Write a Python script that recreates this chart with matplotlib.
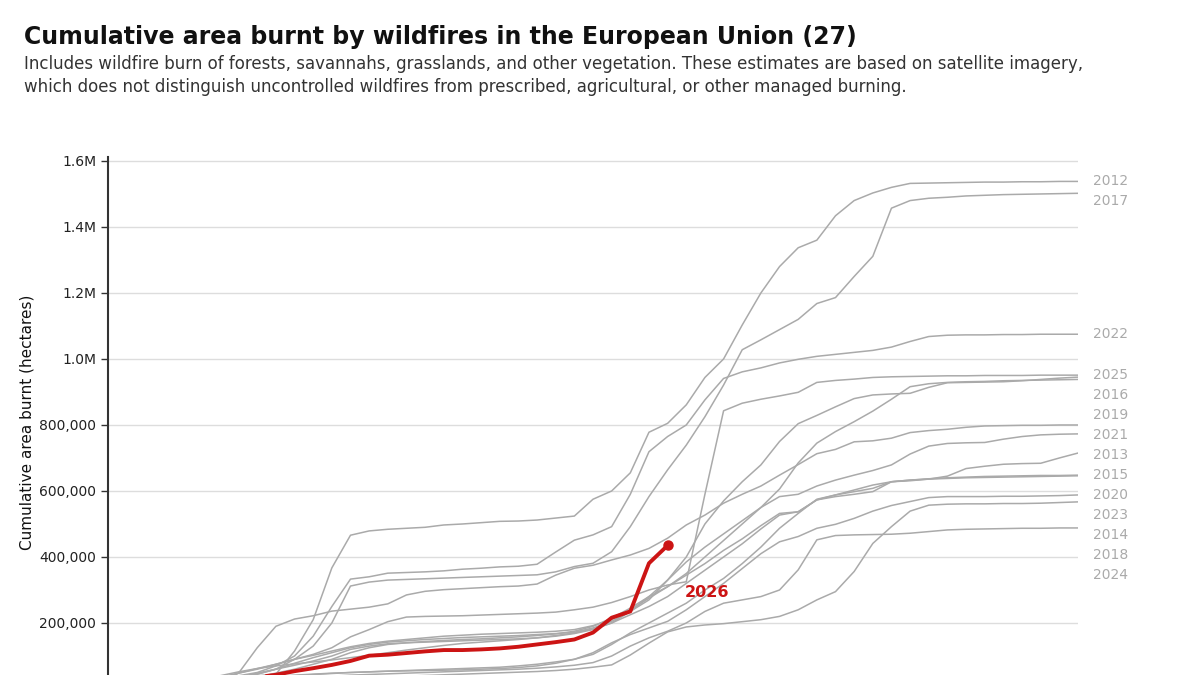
import numpy as np
import matplotlib
matplotlib.use("Agg")
import matplotlib.pyplot as plt
from matplotlib.ticker import FuncFormatter

# cumulative burnt area by week of year, thousands of hectares
weeks = np.arange(53)

y2012 = [3, 6, 10, 14, 19, 25, 30, 36, 40, 45,
         115, 210, 367, 466, 479, 484, 487, 490, 497, 500,
         504, 508, 509, 512, 518, 524, 575, 600, 655, 778,
         805, 861, 944, 1000, 1103, 1200, 1280, 1337, 1360, 1434,
         1480, 1503, 1520, 1532, 1533, 1534, 1535, 1536, 1536, 1537,
         1537, 1538, 1538]
y2013 = [1, 2, 4, 7, 12, 18, 26, 36, 48, 60,
         72, 85, 100, 120, 130, 137, 140, 142, 144, 146,
         148, 150, 152, 155, 160, 168, 180, 200, 235, 280,
         330, 385, 430, 470, 510, 550, 583, 590, 615, 633,
         648, 662, 679, 712, 736, 744, 746, 747, 757, 765,
         770, 772, 773]
y2014 = [1, 2, 3, 5, 8, 12, 17, 23, 30, 36,
         40, 44, 47, 50, 52, 54, 55, 56, 57, 58,
         60, 62, 65, 70, 78, 90, 110, 140, 165, 185,
         205, 240, 280, 320, 365, 410, 446, 462, 487, 499,
         517, 539, 556, 568, 580, 583, 583, 583, 584, 584,
         585, 586, 588]
y2015 = [1, 2, 3, 5, 8, 12, 18, 26, 36, 48,
         60, 75, 90, 110, 125, 135, 140, 144, 147, 150,
         152, 155, 158, 162, 167, 175, 190, 215, 245, 280,
         310, 345, 380, 420, 455, 495, 532, 537, 573, 583,
         590, 598, 628, 631, 636, 645, 668, 675, 681, 683,
         684, 700, 715]
y2016 = [1, 2, 4, 7, 11, 16, 22, 30, 45, 60,
         78, 95, 110, 125, 135, 142, 146, 150, 153, 156,
         158, 160, 162, 165, 168, 172, 185, 205, 235, 270,
         330, 400, 500, 570, 628, 679, 750, 804, 829, 855,
         880, 891, 894, 896, 914, 928, 929, 930, 931, 934,
         938, 942, 945]
y2017 = [2, 4, 7, 10, 14, 18, 24, 32, 45, 60,
         90, 130, 200, 312, 324, 330, 332, 334, 336, 338,
         340, 342, 344, 346, 355, 371, 381, 416, 492, 583,
         664, 739, 825, 921, 1028, 1058, 1089, 1120, 1168, 1186,
         1250, 1311, 1457, 1480, 1487, 1490, 1494, 1496, 1498, 1499,
         1500, 1501, 1502]
y2018 = [1, 1, 2, 3, 5, 7, 10, 13, 16, 20,
         23, 26, 29, 32, 35, 37, 39, 41, 43, 45,
         47, 49, 51, 53, 56, 60, 66, 73, 103, 139,
         173, 188, 194, 198, 204, 210, 220, 240, 270, 295,
         356, 441, 492, 539, 557, 560, 561, 561, 562, 562,
         563, 565, 567]
y2019 = [1, 3, 6, 10, 16, 24, 34, 48, 62, 75,
         90, 102, 115, 128, 138, 145, 150, 155, 160, 163,
         166, 168, 170, 172, 175, 180, 192, 210, 240, 275,
         310, 350, 400, 450, 500, 550, 606, 685, 745, 780,
         810, 842, 878, 916, 925, 929, 931, 932, 934, 935,
         936, 937, 938]
y2020 = [1, 3, 6, 11, 18, 28, 40, 52, 62, 70,
         76, 82, 88, 95, 102, 110, 118, 125, 132, 138,
         142, 146, 150, 155, 162, 170, 182, 200, 225, 250,
         280, 320, 360, 400, 440, 485, 527, 537, 573, 588,
         603, 618, 628, 633, 637, 640, 642, 644, 645, 646,
         647, 647, 648]
y2021 = [1, 3, 6, 9, 13, 17, 22, 48, 125, 190,
         212, 222, 236, 242, 248, 258, 285, 296, 301, 304,
         307, 310, 312, 318, 345, 366, 375, 391, 406, 426,
         457, 497, 527, 563, 590, 615, 648, 680, 713, 726,
         749, 752, 760, 777, 783, 787, 793, 797, 798, 799,
         799, 800, 800]
y2022 = [2, 4, 7, 11, 16, 22, 30, 40, 50, 70,
         100, 160, 250, 333, 340, 351, 353, 355, 358, 363,
         366, 370, 372, 378, 415, 451, 467, 492, 590, 719,
         765, 800, 876, 941, 961, 973, 988, 999, 1008, 1014,
         1020, 1026, 1036, 1053, 1068, 1072, 1073, 1073, 1074, 1074,
         1075, 1075, 1075]
y2023 = [1, 2, 4, 7, 11, 16, 22, 28, 33, 38,
         42, 45, 48, 50, 52, 54, 56, 58, 60, 62,
         64, 66, 70, 75, 82, 90, 105, 135, 170, 200,
         230, 260, 300, 335, 380, 430, 487, 532, 575, 588,
         598, 608, 628, 633, 636, 638, 640, 641, 642, 643,
         644, 645, 646]
y2024 = [1, 2, 3, 5, 7, 10, 14, 19, 24, 29,
         33, 36, 39, 42, 44, 46, 48, 50, 52, 54,
         56, 58, 60, 63, 67, 72, 80, 100, 130, 155,
         175, 200, 235, 260, 270, 280, 300, 361, 452, 465,
         467, 468, 469, 472, 477, 482, 484, 485, 486, 487,
         487, 488, 488]
y2025 = [1, 3, 6, 10, 16, 25, 35, 48, 60, 75,
         90, 105, 125, 158, 180, 204, 218, 220, 221, 222,
         224, 226, 228, 230, 233, 240, 248, 262, 280, 300,
         315, 325, 590, 843, 866, 878, 888, 899, 929, 935,
         939, 944, 946, 947, 948, 949, 949, 950, 950, 950,
         951, 951, 951]
y2026 = [2, 5, 8, 12, 16, 20, 25, 30, 36, 43,
         54, 63, 73, 85, 101, 104, 109, 114, 118, 118,
         120, 123, 128, 135, 142, 150, 171, 216, 235, 381,
         435]

past_years = {
    "2012": y2012, "2013": y2013, "2014": y2014, "2015": y2015,
    "2016": y2016, "2017": y2017, "2018": y2018, "2019": y2019,
    "2020": y2020, "2021": y2021, "2022": y2022, "2023": y2023,
    "2024": y2024, "2025": y2025,
}

grey = "#aaaaaa"
red = "#cc1414"

fig = plt.figure(figsize=(12, 6.75), dpi=100)

fig.text(24/1200, 1 - 37/675, "Cumulative area burnt by wildfires in the European Union (27)",
         fontsize=17, fontweight="bold", color="#111111", va="center", ha="left")
fig.text(24/1200, 1 - 64/675,
         "Includes wildfire burn of forests, savannahs, grasslands, and other vegetation. "
         "These estimates are based on satellite imagery,",
         fontsize=12, color="#333333", va="center", ha="left")
fig.text(24/1200, 1 - 87/675,
         "which does not distinguish uncontrolled wildfires from prescribed, agricultural, or other managed burning.",
         fontsize=12, color="#333333", va="center", ha="left")

# axes runs below the bottom edge of the picture, like the cropped original
ax = fig.add_axes([108/1200, 1 - 689/675, 970/1200, 532/675])

for year, vals in past_years.items():
    ax.plot(weeks, np.array(vals) * 1000, color=grey, lw=1.1, zorder=2)

w26 = weeks[:len(y2026)]
v26 = np.array(y2026) * 1000
ax.plot(w26, v26, color=red, lw=2.8, zorder=4, solid_capstyle="round")
ax.plot(w26[-1], v26[-1], "o", color=red, ms=6.5, zorder=5)
ax.annotate("2026", (w26[-1], v26[-1]), xytext=(12, -34), textcoords="offset points",
            color=red, fontsize=11.5, fontweight="bold", va="center", ha="left")

ax.set_xlim(0, 52)
ax.set_ylim(0, 1.612e6)
ax.set_yticks(np.arange(200000, 1600001, 200000))
ax.yaxis.set_major_formatter(FuncFormatter(
    lambda v, p: f"{v/1e6:.1f}M" if v >= 1e6 else f"{v:,.0f}"))
ax.set_xticks([])
ax.tick_params(axis="y", length=5, width=1, color="#333333", labelsize=10, labelcolor="#222222")
ax.yaxis.grid(True, color="#dddddd", lw=1)
ax.set_axisbelow(True)
for s in ["top", "right", "bottom"]:
    ax.spines[s].set_visible(False)
ax.spines["left"].set_color("#333333")
ax.spines["left"].set_linewidth(1.5)

fig.text(27/1200, 1 - 422/675, "Cumulative area burnt (hectares)", rotation=90,
         fontsize=11, color="#111111", va="center", ha="center")

# year labels on the right, pushed apart so they do not overlap
gap = 60600
ends = sorted(((vals[-1] * 1000, year) for year, vals in past_years.items()), reverse=True)
prev = None
for end, year in ends:
    pos = end if prev is None else min(end, prev - gap)
    ax.text(52.8, pos, year, color=grey, fontsize=10, va="center", ha="left")
    prev = pos

fig.savefig("out.png", dpi=100)
